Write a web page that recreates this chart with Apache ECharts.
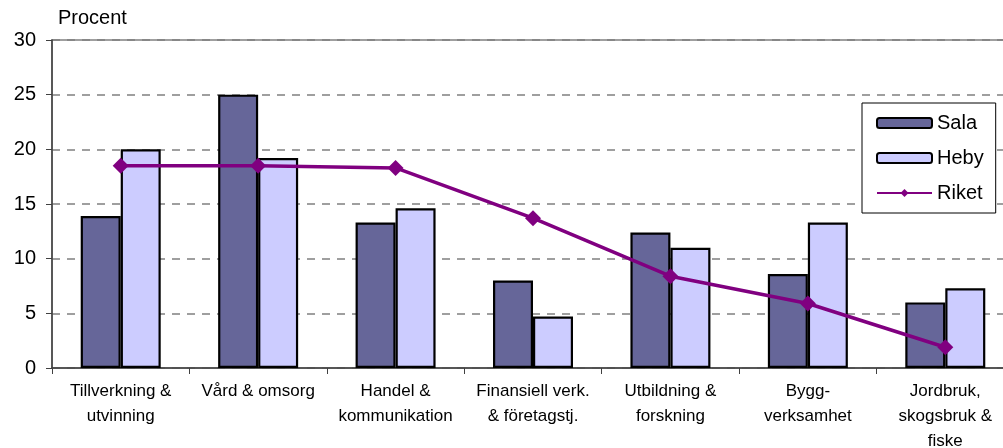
<!DOCTYPE html>
<html>
<head>
<meta charset="UTF-8">
<title>Procent per bransch</title>
<script type="text/javascript" src="https://cdn.jsdelivr.net/npm/echarts@6/dist/echarts.min.js"></script>
</head>
<body style="margin:0">
<div id="box" style="width:1003px;height:448px;"></div>

<script type="text/javascript">
// kategorier
var categories = ['Tillverkning &\nutvinning', 'Vård & omsorg', 'Handel &\nkommunikation',
  'Finansiell verk.\n& företagstj.', 'Utbildning &\nforskning', 'Bygg-\nverksamhet',
  'Jordbruk,\nskogsbruk &\nfiske'];
var sala = [13.9, 25.0, 13.3, 8.0, 12.4, 8.6, 6.0];
var heby = [20.0, 19.2, 14.6, 4.7, 11.0, 13.3, 7.3];
var riket = [18.5, 18.5, 18.3, 13.7, 8.4, 5.9, 1.9];
var yTicks = [0, 5, 10, 15, 20, 25, 30];

var mychart = echarts.init(document.getElementById('box'));

mychart.setOption({
  animation: false,
  textStyle: { fontFamily: 'Liberation Sans, Arial, sans-serif' },
  grid: {
    left: 52, top: 40, right: -11, bottom: 80,
    outerBoundsMode: 'none',
    containLabel: false,
    show: true, borderColor: '#808080', borderWidth: 1.5
  },
  legend: {
    orient: 'vertical',
    left: 862, top: 103,
    padding: [10, 12, 10, 14],
    backgroundColor: '#fff',
    borderColor: '#000', borderWidth: 1,
    itemWidth: 55, itemHeight: 10, itemGap: 15,
    textStyle: { fontSize: 20, color: '#000', lineHeight: 20 },
    data: ['Sala', 'Heby', 'Riket']
  },
  xAxis: {
    type: 'category',
    data: categories,
    axisLine: { lineStyle: { color: '#404040', width: 1.5 } },
    axisTick: { show: true, length: 6, lineStyle: { color: '#404040' } },
    axisLabel: { fontSize: 17, color: '#000', lineHeight: 25, margin: 11, interval: 0 }
  },
  yAxis: {
    type: 'value',
    min: yTicks[0], max: yTicks[yTicks.length - 1], interval: 5,
    name: 'Procent',
    nameLocation: 'end',
    nameGap: 12,
    nameTextStyle: { fontSize: 20, color: '#000', align: 'left', padding: [0, 0, 0, 6] },
    axisLine: { show: true, lineStyle: { color: '#404040', width: 1.5 } },
    axisTick: { show: true, length: 6, lineStyle: { color: '#404040' } },
    axisLabel: { fontSize: 20, color: '#000', margin: 16 },
    splitLine: { show: true, lineStyle: { color: '#808080', width: 1.5, type: [8, 7] } }
  },
  series: [{
    name: 'Sala',
    type: 'bar',
    data: sala,
    barWidth: 40,
    barGap: '0%',
    itemStyle: { color: '#666699', borderColor: '#000', borderWidth: 2.2 }
  }, {
    name: 'Heby',
    type: 'bar',
    data: heby,
    barWidth: 40,
    itemStyle: { color: '#CCCCFF', borderColor: '#000', borderWidth: 2.2 }
  }, {
    name: 'Riket',
    type: 'line',
    data: riket,
    symbol: 'diamond',
    symbolSize: 16,
    lineStyle: { color: '#800080', width: 3.5 },
    itemStyle: { color: '#800080' }
  }]
});
</script>
</body>
</html>
